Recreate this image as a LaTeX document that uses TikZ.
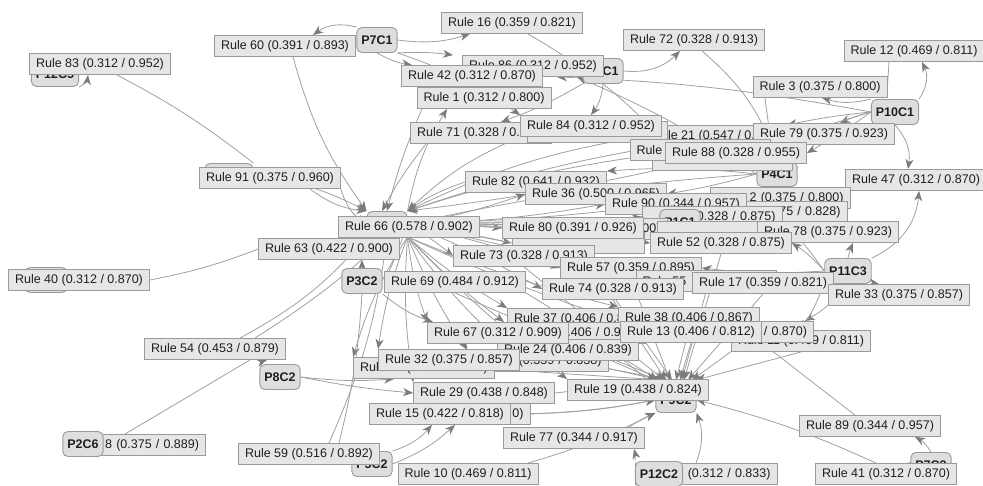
\documentclass[tikz,border=0pt]{standalone}
\usepackage{fontspec}
\setmainfont{Liberation Sans}
\usetikzlibrary{arrows.meta}
\definecolor{boxfill}{HTML}{E6E6E6}
\definecolor{boxline}{HTML}{9A9A9A}
\definecolor{pfill}{HTML}{DEDEDE}
\definecolor{edgec}{HTML}{A0A0A0}
\definecolor{tipc}{HTML}{7C7C7C}
\pgfdeclarelayer{edgelayer}
\pgfsetlayers{edgelayer,main}
\tikzset{
  rulebox/.style={draw=boxline, fill=boxfill, line width=0.9pt, inner xsep=6.5pt, inner ysep=0pt,
    minimum height=21pt, font=\fontsize{12.5}{14}\selectfont, text=black!88},
  fragR/.style={rulebox, text width=#1, align=right},
  fragL/.style={rulebox, text width=#1, align=left},
  pnode/.style={draw=boxline, fill=pfill, rounded corners=5pt, line width=0.9pt, inner xsep=4.5pt,
    inner ysep=0pt, minimum height=25pt, font=\fontsize{12.5}{14}\selectfont\bfseries, text=black!88},
  conn/.style={draw=edgec, line width=0.8pt, -{Stealth[length=10pt,width=8pt,inset=3pt,color=tipc]}},
  plainconn/.style={draw=edgec, line width=0.8pt},
}
\begin{document}
\begin{tikzpicture}[x=1pt,y=-1pt]
\useasboundingbox (0,0) rectangle (983,486);
% hidden / background nodes
\node[pnode,minimum width=48pt] (nB) at (229,176) {};
\node[pnode,minimum width=42pt] (nC) at (46,280) {};
\node[pnode,minimum width=40pt] (nA) at (387,224) {};
\node[pnode] (p12c5) at (55,74) {P12C5};
\node[pnode] (p6c1) at (603,71) {P6C1};
\node[pnode] (p7c3) at (931,465) {P7C3};
\node[pnode] (p9c2) at (676,400) {P9C2};
\coordinate (h9) at (676,380);
% top
\node[rulebox] (r83) at (100,64) {Rule 83 (0.312 / 0.952)};
\node[rulebox] (r60) at (285,46) {Rule 60 (0.391 / 0.893)};
\node[pnode] (p7c1) at (377,40) {P7C1};
\node[rulebox] (r16) at (512,23) {Rule 16 (0.359 / 0.821)};
\node[rulebox] (r72) at (694,40) {Rule 72 (0.328 / 0.913)};
\node[rulebox] (r12) at (914,51) {Rule 12 (0.469 / 0.811)};
\node[rulebox] (r86) at (533,66) {Rule 86 (0.312 / 0.952)};
\node[rulebox] (r42) at (472,76) {Rule 42 (0.312 / 0.870)};
\node[rulebox] (r1) at (484,98) {Rule 1 (0.312 / 0.800)};
\node[rulebox] (r3) at (820,87) {Rule 3 (0.375 / 0.800)};
\node[pnode] (p10c1) at (895,112) {P10C1};
\node[rulebox] (r71) at (481,133) {Rule 71 (0.328 / 0.913)};
\node[rulebox] (r21) at (716,136) {Rule 21 (0.547 / 0.921)};
\node[rulebox,minimum width=140pt] (r84b) at (597,132) {};
\node[rulebox] (r84) at (591,126) {Rule 84 (0.312 / 0.952)};
\node[rulebox] (r79) at (824,134) {Rule 79 (0.375 / 0.923)};
\node[pnode] (p4c1) at (777,174) {P4C1};
\node[rulebox,minimum width=140pt] (r26) at (722,160) {};
\node[fragL=127pt] (r2) at (700,150) {Rule};
\node[rulebox] (r88) at (736,153) {Rule 88 (0.328 / 0.955)};
\node[rulebox] (r47) at (916,180) {Rule 47 (0.312 / 0.870)};
\node[rulebox] (r91) at (270,178) {Rule 91 (0.375 / 0.960)};
\node[rulebox] (r82) at (536,182) {Rule 82 (0.641 / 0.932)};
\node[rulebox] (r36) at (596,194) {Rule 36 (0.500 / 0.965)};
\node[fragR=127pt] (r62) at (780,198) {2 (0.375 / 0.800)};
\node[fragR=127pt] (r75) at (777,212) {75 / 0.828)};
\node[rulebox] (r90) at (676,204) {Rule 90 (0.344 / 0.957)};
\node[fragR=127pt] (r20) at (712,217) {(0.328 / 0.875)};
\node[pnode] (p1c1) at (680,222) {P1C1};
\node[fragR=121pt] (r8) at (600,229) {00)};
\node[rulebox,minimum width=132pt] (r34) at (578,243) {};
\node[rulebox] (r80) at (573,228) {Rule 80 (0.391 / 0.926)};
\node[rulebox,minimum width=136pt] (r5) at (725,232) {};
\node[rulebox] (r78) at (828,232) {Rule 78 (0.375 / 0.923)};
\node[rulebox] (r52) at (721,243) {Rule 52 (0.328 / 0.875)};
\node[rulebox] (r66) at (409,227) {Rule 66 (0.578 / 0.902)};
\node[rulebox] (r63) at (329,249) {Rule 63 (0.422 / 0.900)};
\node[rulebox] (r40) at (79,280) {Rule 40 (0.312 / 0.870)};
\node[rulebox] (r73) at (524,256) {Rule 73 (0.328 / 0.913)};
\node[rulebox] (r57) at (631,268) {Rule 57 (0.359 / 0.895)};
\node[fragL=127pt] (r55) at (706,281) {Rule 55};
\node[rulebox] (r74) at (613,289) {Rule 74 (0.328 / 0.913)};
\node[pnode] (p11c3) at (848,271) {P11C3};
\node[rulebox] (r17) at (763,283) {Rule 17 (0.359 / 0.821)};
\node[rulebox] (r33) at (899,295) {Rule 33 (0.375 / 0.857)};
\node[pnode] (p3c2) at (362,281) {P3C2};
\node[rulebox] (r69) at (455,282) {Rule 69 (0.484 / 0.912)};
\node[rulebox] (r37) at (578,319) {Rule 37 (0.406 / 0.857)};
\node[rulebox] (r38) at (689,318) {Rule 38 (0.406 / 0.867)};
\node[rulebox] (r11) at (801,341) {Rule 11 (0.469 / 0.811)};
\node[fragR=128pt] (r18) at (743,332) {/ 0.870)};
\node[fragR=128pt] (r30) at (575,333) {(0.406 / 0.929)};
\node[fragR=127pt] (r25) at (538,361) {(0.359 / 0.838)};
\node[rulebox] (r24) at (568,350) {Rule 24 (0.406 / 0.839)};
\node[rulebox] (r67) at (498,333) {Rule 67 (0.312 / 0.909)};
\node[rulebox] (r13) at (691,332) {Rule 13 (0.406 / 0.812)};
\node[rulebox] (r54) at (215,349) {Rule 54 (0.453 / 0.879)};
\node[pnode] (p8c2) at (280,377) {P8C2};
\node[rulebox] (r27) at (424,368) {Rule 27 (0.375 / 0.828)};
\node[rulebox] (r32) at (449,360) {Rule 32 (0.375 / 0.857)};
\node[fragR=127pt] (r31) at (460,414) {0)};
\node[rulebox] (r29) at (484,393) {Rule 29 (0.438 / 0.848)};
\node[rulebox] (r19) at (638,390) {Rule 19 (0.438 / 0.824)};
\node[rulebox] (r15) at (440,414) {Rule 15 (0.422 / 0.818)};
\node[rulebox] (r77) at (574,438) {Rule 77 (0.344 / 0.917)};
\node[rulebox] (r89) at (870,426) {Rule 89 (0.344 / 0.957)};
\node[fragR=128pt] (r48) at (135,445) {8 (0.375 / 0.889)};
\node[pnode] (p2c6) at (83,444) {P2C6};
\node[pnode] (p5c2) at (372,464) {P5C2};
\node[rulebox] (r59) at (309,454) {Rule 59 (0.516 / 0.892)};
\node[rulebox] (r10) at (468,474) {Rule 10 (0.469 / 0.811)};
\node[fragR=129pt] (r65) at (706,474) {(0.312 / 0.833)};
\node[pnode] (p12c2) at (659,474) {P12C2};
\node[rulebox] (r41) at (886,474) {Rule 41 (0.312 / 0.870)};

\begin{pgfonlayer}{edgelayer}
% top-left
\draw[conn] (p12c5.south east) to[bend right=30] ([xshift=-12pt]r83.south);
\draw[plainconn] ([xshift=17pt]r83.south) to[bend left=5] (nB.north east);
\draw[conn] (nB.east) to[bend left=10] (nA.north west);
\draw[conn] (p7c1.north west) to[bend right=25] ([xshift=28pt]r60.north);
\draw[conn] ([xshift=8pt]r60.south) to[bend right=10] (nA.north west);
\draw[conn] (p7c1.east) to[bend right=12] ([xshift=-42pt]r16.south);
\draw[conn] (p7c1.south) to[bend right=10] ([xshift=-60pt]r42.north);
\draw[conn] (p7c1.south east) to[bend left=5] ([xshift=-80pt]r86.north);
\draw[conn] (p7c1.south east) to[bend left=8] (r84.north west);
\draw[conn] ([xshift=16pt]r16.south) to[bend left=8] (r88.north west);
% p6c1
\draw[conn] (p6c1.east) to[bend right=25] ([xshift=-14pt]r72.south);
\draw[conn] (p6c1.south) to[bend left=15] (r84.north);
\draw[conn] (p6c1.south west) to[bend left=5] ([xshift=20pt]r71.north);
\draw[conn] ([xshift=8pt]r72.south) to[bend left=15] (p4c1.north);
% p10c1
\draw[conn] (p10c1.north west) to[bend left=15] ([xshift=2pt]r3.south);
\draw[conn] (p10c1.north east) to[bend right=30] ([xshift=8pt]r12.south);
\draw[conn] (p10c1.south) to[bend left=25] ([xshift=-8pt]r47.north);
\draw[conn] (p10c1.west) to[bend right=5] ([xshift=16pt]r79.north);
\draw[conn] (p10c1.west) to[bend right=4] ([xshift=24pt]r86.south);
\draw[conn] (p10c1.west) to[bend right=3] (r21.north east);
\draw[conn] (p10c1.west) to[bend left=3] (r88.east);
\draw[conn] (p10c1.west) to[bend left=5] (nA.north east);
\draw[plainconn] ([xshift=-25pt]r12.south) -- (r3.east);
\draw[plainconn] ([xshift=-55pt]r3.south) -- (r2.north east);
% p11c3
\draw[conn] (p11c3.north east) to[bend right=30] ([xshift=3pt]r47.south);
\draw[conn] (p11c3.north) to[bend left=5] ([xshift=25pt]r78.south);
\draw[conn] (p11c3.south east) to[bend left=10] ([xshift=-20pt]r33.north);
\draw[conn] (p11c3.west) to[bend right=8] (r52.east);
\draw[conn] (p11c3.west) to[bend right=3] (r5.east);
\draw[conn] (p11c3.west) to[bend left=5] (r57.east);
\draw[conn] (p11c3.south) to[bend left=10] ([xshift=62pt]r18.north);
\draw[conn] (p11c3.south west) to[bend left=5] (r11.north);
% p4c1
\draw[conn] (p4c1.west) to[bend right=5] ([xshift=44pt]r86.south);
\draw[conn] (p4c1.west) to[bend right=5] (r82.north east);
\draw[conn] (p4c1.west) to[bend left=3] (r36.east);
\draw[conn] (p4c1.south west) to[bend left=5] (r80.north east);
\draw[conn] (p4c1.west) to[bend right=4] (nA.east);
% into nA
\draw[conn] (r91.south east) to[bend right=20] (nA.west);
\draw[conn] ([xshift=40pt]r91.south) to[bend right=15] (nA.north west);
\draw[conn] ([xshift=-55pt]r71.south) to[bend right=5] ([xshift=-5pt]nA.north);
\draw[conn] ([xshift=-40pt]r42.south) to[bend right=5] (nA.north);
\draw[conn] (r84.south west) to[bend right=10] (nA.north east);
\draw[conn] (r82.west) to[bend right=8] (nA.north east);
\draw[conn] (r21.west) to[bend right=8] (nA.north east);
\draw[conn] (r88.west) to[bend right=5] (nA.north east);
\draw[conn] (r79.west) to[bend right=6] (nA.north east);
\draw[conn] (nA.north east) to[bend left=10] ([xshift=-37pt]r1.south);
\draw[conn] ([xshift=25pt]r54.north) to[bend right=10] (nA.south west);
\draw[conn] ([xshift=40pt]r54.north) to[bend right=5] (nA.south);
\draw[conn] ([xshift=20pt]r59.north) to[bend right=8] (nA.south);
% nA outward
\foreach \t/\b in {r80/3,r34/2,r73/4,r57/3,r55/2,r74/4,r52/3,r90/-4,r17/2,r78/3,r62/-3,r75/-2,r20/-3,r8/2,r36/-5,r5/2,r69/3}
  \draw[conn] (nA.east) to[bend left=\b] (\t.west);
\foreach \t/\b in {r37/5,r38/4,r13/3,r24/5,r30/4,r67/6,r32/6,r25/5,r19/4,r29/6,r27/8}
  \draw[conn] (nA.south east) to[bend right=\b] (\t.north west);
% to P9C2 hub
\foreach \t/\s in {r37/-18,r38/0,r13/4,r30/-12,r24/-8,r67/-16,r74/-10,r57/-6,r55/6,r17/12,r11/20,r18/16,r25/-14,r69/-20,r73/-12,r80/-4,r52/8}
  \draw[conn] (\t.south) to ([xshift=\s pt]h9);
% bottom
\draw[conn] (r15.east) to[bend right=5] (p9c2.west);
\draw[conn] (r31.east) to[bend right=4] (p9c2.west);
\draw[conn] (r29.east) to[bend left=3] (p9c2.north west);
\draw[conn] ([xshift=60pt]r10.north) to[bend right=5] (p9c2.south west);
\draw[conn] ([xshift=55pt]r77.north) to[bend left=5] (p9c2.south west);
\draw[conn] ([xshift=-10pt]r65.north) to[bend right=20] (p9c2.south east);
\draw[conn] (p12c2.north west) to[bend right=10] ([xshift=60pt]r77.south);
\draw[conn] ([xshift=-10pt]r41.north) to[bend right=5] (p9c2.east);
\draw[conn] (p7c3.north) to[bend right=15] ([xshift=45pt]r89.south);
\draw[conn] (p7c3.west) to[bend right=10] ([xshift=20pt]r41.north);
\draw[plainconn] ([xshift=-15pt]r89.north) -- (r13.south east);
\draw[conn] (p5c2.north east) to[bend right=15] ([xshift=-8pt]r15.south);
\draw[conn] (p5c2.east) to[bend right=10] ([xshift=15pt]r15.south);
\draw[conn] (p8c2.east) to[bend right=5] ([xshift=-30pt]r27.south);
\draw[conn] (p8c2.east) to[bend right=3] (r29.west);
\draw[conn] (p8c2.north west) to[bend left=10] ([xshift=52pt]r54.south);
\draw[plainconn] ([xshift=-10pt]r48.north) -- ([xshift=35pt]r54.south);
\draw[plainconn] (p3c2.south) to[bend left=5] ([xshift=30pt]r59.north);
\draw[conn] (p3c2.north) -- ([xshift=33pt]r63.south);
\draw[conn] (p3c2.south east) to[bend right=10] ([xshift=-65pt]r67.north);
\draw[plainconn] (r40.east) to[bend right=5] (r63.west);
\draw[conn] (r69.south east) to[bend left=5] (p9c2.north west);
\end{pgfonlayer}
\end{tikzpicture}
\end{document}
